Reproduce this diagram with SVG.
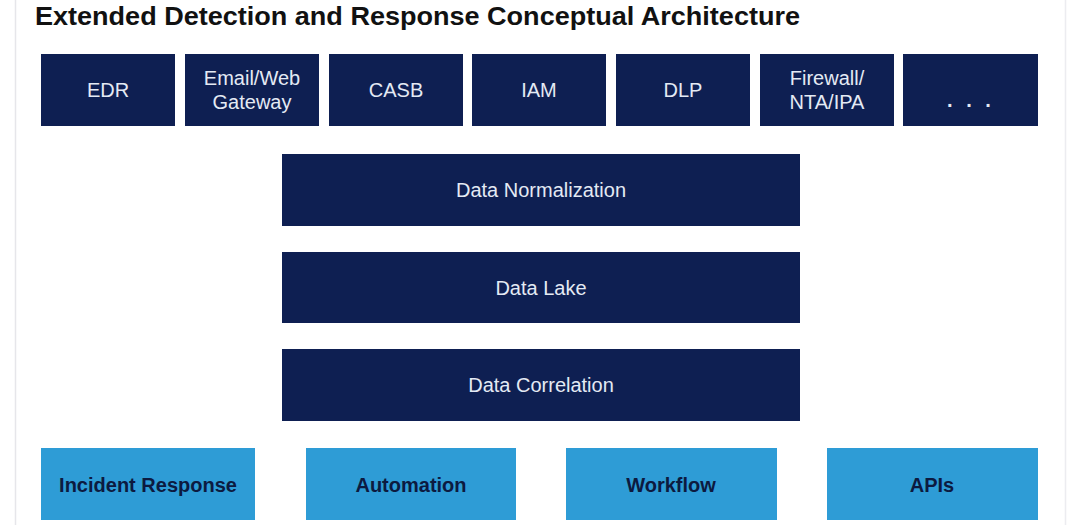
<svg xmlns="http://www.w3.org/2000/svg" width="1080" height="525" viewBox="0 0 1080 525">
<style>
.t{font-family:"Liberation Sans",Arial,sans-serif;font-weight:bold;font-size:26px;fill:#111}
.d{fill:#0e1f52}
.l{fill:#2e9cd6}
.dt{font-family:"Liberation Sans",Arial,sans-serif;font-size:20px;fill:#e4eaf4;text-anchor:middle}
.lt{font-family:"Liberation Sans",Arial,sans-serif;font-weight:bold;font-size:20px;fill:#0c1a40;text-anchor:middle}
</style>
<rect width="1080" height="525" fill="#ffffff"/>
<line x1="15.5" y1="0" x2="15.5" y2="525" stroke="#e6e6ea" stroke-width="1.5"/>
<line x1="1065.5" y1="0" x2="1065.5" y2="525" stroke="#ececf0" stroke-width="1.5"/>
<text class="t" x="35" y="25" textLength="765" lengthAdjust="spacingAndGlyphs">Extended Detection and Response Conceptual Architecture</text>
<g id="connectors"></g>
<g id="edr"><rect class="d" x="41" y="54" width="134" height="72"/><text class="dt" x="108" y="97">EDR</text></g>
<g id="email"><rect class="d" x="185" y="54" width="134" height="72"/><text class="dt" x="252" y="85">Email/Web</text><text class="dt" x="252" y="109">Gateway</text></g>
<g id="casb"><rect class="d" x="329" y="54" width="134" height="72"/><text class="dt" x="396" y="97">CASB</text></g>
<g id="iam"><rect class="d" x="472" y="54" width="134" height="72"/><text class="dt" x="539" y="97">IAM</text></g>
<g id="dlp"><rect class="d" x="616" y="54" width="134" height="72"/><text class="dt" x="683" y="97">DLP</text></g>
<g id="firewall"><rect class="d" x="760" y="54" width="134" height="72"/><text class="dt" x="827" y="85">Firewall/</text><text class="dt" x="827" y="109">NTA/IPA</text></g>
<g id="more"><rect class="d" x="903" y="54" width="135" height="72"/><text class="dt" x="971" y="107" style="font-weight:bold;letter-spacing:4px">. . .</text></g>
<g id="normalization"><rect class="d" x="282" y="154" width="518" height="72"/><text class="dt" x="541" y="197">Data Normalization</text></g>
<g id="lake"><rect class="d" x="282" y="252" width="518" height="71"/><text class="dt" x="541" y="295">Data Lake</text></g>
<g id="correlation"><rect class="d" x="282" y="349" width="518" height="72"/><text class="dt" x="541" y="392">Data Correlation</text></g>
<g id="incident"><rect class="l" x="41" y="448" width="214" height="72"/><text class="lt" x="148" y="492">Incident Response</text></g>
<g id="automation"><rect class="l" x="306" y="448" width="210" height="72"/><text class="lt" x="411" y="492">Automation</text></g>
<g id="workflow"><rect class="l" x="566" y="448" width="211" height="72"/><text class="lt" x="671" y="492">Workflow</text></g>
<g id="apis"><rect class="l" x="827" y="448" width="211" height="72"/><text class="lt" x="932" y="492">APIs</text></g>
</svg>
